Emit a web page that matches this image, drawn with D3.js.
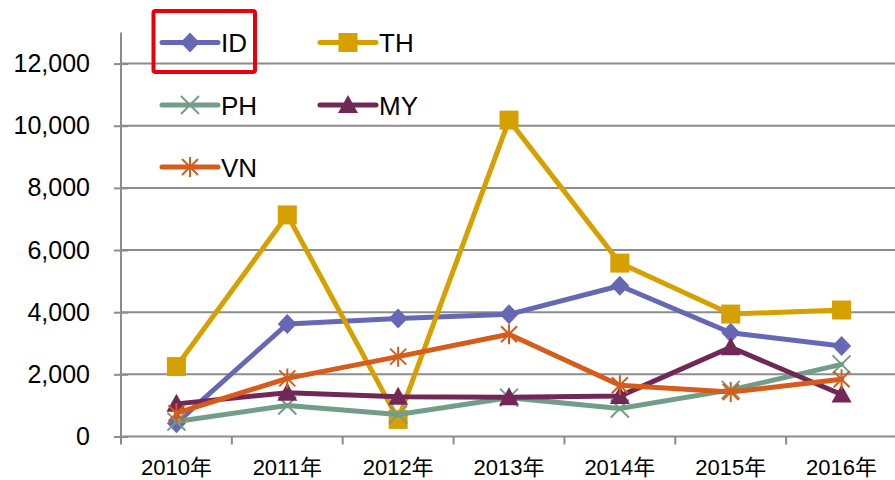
<!DOCTYPE html>
<html>
<head>
<meta charset="utf-8">
<script src="https://cdn.jsdelivr.net/npm/d3@7"></script>
<style>
  html, body { margin: 0; padding: 0; background: #fff; }
  svg { display: block; font-family: "Liberation Sans", Arial, "Noto Sans CJK JP", sans-serif; }
</style>
</head>
<body>
<svg id="chart" width="895" height="480"></svg>
<script>
// ---- data ----
const categories = ["2010年", "2011年", "2012年", "2013年", "2014年", "2015年", "2016年"];
const seriesNames = ["ID", "TH", "PH", "MY", "VN"];
const ID = [430, 3620, 3800, 3930, 4850, 3340, 2910];
const TH = [2250, 7130, 550, 10180, 5580, 3940, 4070];
const PH = [480, 1000, 710, 1250, 900, 1500, 2320];
const MY = [1050, 1410, 1280, 1260, 1300, 2870, 1350];
const VN = [750, 1870, 2570, 3290, 1650, 1430, 1840];
const yTicks = [0, 2000, 4000, 6000, 8000, 10000, 12000];

(function () {
const colors = { ID: "#6667B5", TH: "#D5A000", PH: "#729E89", MY: "#722856", VN: "#D55C1A" };
const markers = { ID: "diamond", TH: "square", PH: "x", MY: "triangle", VN: "star" };
const seriesData = { ID, TH, PH, MY, VN };

const svg = d3.select("#chart");
const pL = 121, pR = 897, pT = 32.5, pB = 436.5;

const x = d3.scaleBand().domain(categories).range([pL, pR]).padding(0);
const y = d3.scaleLinear().domain([0, 13000]).range([pB, pT]);

// gridlines
svg.append("g").selectAll("line").data(yTicks.filter(d => d > 0)).join("line")
  .attr("x1", pL).attr("x2", pR)
  .attr("y1", d => y(d)).attr("y2", d => y(d))
  .attr("stroke", "#8c8c8c").attr("stroke-width", 2);

// y axis
const yAxis = d3.axisLeft(y).tickValues(yTicks).tickSize(0).tickPadding(31)
  .tickFormat(d3.format(","));
const gy = svg.append("g").attr("transform", `translate(${pL},0)`).call(yAxis);
gy.select(".domain").remove();
gy.selectAll("text").attr("font-size", 25).attr("fill", "#000")
  .attr("font-family", '"Liberation Sans", Arial, sans-serif');
gy.selectAll(".tick").append("line")
  .attr("x1", -7).attr("x2", 7).attr("stroke", "#8c8c8c").attr("stroke-width", 2);
svg.append("line").attr("x1", pL).attr("x2", pL).attr("y1", pT).attr("y2", pB)
  .attr("stroke", "#8c8c8c").attr("stroke-width", 2);

// x axis
const xAxis = d3.axisBottom(x).tickSize(0).tickPadding(23);
const gx = svg.append("g").attr("transform", `translate(0,${pB})`).call(xAxis);
gx.select(".domain").remove();
gx.selectAll("text").attr("font-size", 22).attr("fill", "#000")
  .attr("font-family", '"Liberation Sans", Arial, "Noto Sans CJK JP", sans-serif');
svg.append("g").selectAll("line").data(categories.concat(["_end"])).join("line")
  .attr("x1", (d, i) => pL + i * x.bandwidth()).attr("x2", (d, i) => pL + i * x.bandwidth())
  .attr("y1", pB).attr("y2", pB + 8)
  .attr("stroke", "#8c8c8c").attr("stroke-width", 2);
svg.append("line").attr("x1", pL).attr("x2", pR).attr("y1", pB).attr("y2", pB)
  .attr("stroke", "#8c8c8c").attr("stroke-width", 2);

// marker drawing
function drawMarker(g, type, cx, cy, color) {
  if (type === "diamond") {
    g.append("path").attr("d", `M${cx},${cy - 10}L${cx + 9.5},${cy}L${cx},${cy + 10}L${cx - 9.5},${cy}Z`)
      .attr("fill", color);
  } else if (type === "square") {
    g.append("rect").attr("x", cx - 9.5).attr("y", cy - 9.5).attr("width", 19).attr("height", 19)
      .attr("fill", color);
  } else if (type === "triangle") {
    g.append("path").attr("d", `M${cx},${cy - 10}L${cx + 10},${cy + 8}L${cx - 10},${cy + 8}Z`)
      .attr("fill", color);
  } else if (type === "x") {
    g.append("path").attr("d", `M${cx - 9},${cy - 9}L${cx + 9},${cy + 9}M${cx - 9},${cy + 9}L${cx + 9},${cy - 9}`)
      .attr("stroke", color).attr("stroke-width", 2).attr("fill", "none");
  } else if (type === "star") {
    g.append("path").attr("d", `M${cx - 8},${cy - 8}L${cx + 8},${cy + 8}M${cx - 8},${cy + 8}L${cx + 8},${cy - 8}M${cx},${cy - 10}L${cx},${cy + 10}`)
      .attr("stroke", color).attr("stroke-width", 2).attr("fill", "none");
  }
}

// series
const line = d3.line().x(d => x(d.c) + x.bandwidth() / 2).y(d => y(d.v));
seriesNames.forEach(name => {
  const pts = categories.map((c, i) => ({ c, v: seriesData[name][i] }));
  const g = svg.append("g");
  g.append("path").datum(pts).attr("d", line)
    .attr("fill", "none").attr("stroke", colors[name]).attr("stroke-width", 5)
    .attr("stroke-linejoin", "round").attr("stroke-linecap", "round");
  pts.forEach(p => drawMarker(g, markers[name], x(p.c) + x.bandwidth() / 2, y(p.v), colors[name]));
});

// legend
const legendPos = [
  { name: "ID", lx: 162, ly: 42.5 },
  { name: "TH", lx: 320, ly: 42.5 },
  { name: "PH", lx: 162, ly: 105 },
  { name: "MY", lx: 320, ly: 105 },
  { name: "VN", lx: 162, ly: 167 }
];
const lg = svg.append("g");
legendPos.forEach(e => {
  lg.append("line").attr("x1", e.lx).attr("x2", e.lx + 56).attr("y1", e.ly).attr("y2", e.ly)
    .attr("stroke", colors[e.name]).attr("stroke-width", 5).attr("stroke-linecap", "round");
  drawMarker(lg, markers[e.name], e.lx + 28, e.ly, colors[e.name]);
  lg.append("text").attr("x", e.lx + 59).attr("y", e.ly + 9.5).attr("font-size", 26)
    .attr("fill", "#000").text(e.name);
});
lg.append("rect").attr("x", 153.5).attr("y", 11).attr("width", 101.5).attr("height", 61)
  .attr("rx", 2).attr("fill", "none").attr("stroke", "#E8000B").attr("stroke-width", 4);
})();
</script>
</body>
</html>
